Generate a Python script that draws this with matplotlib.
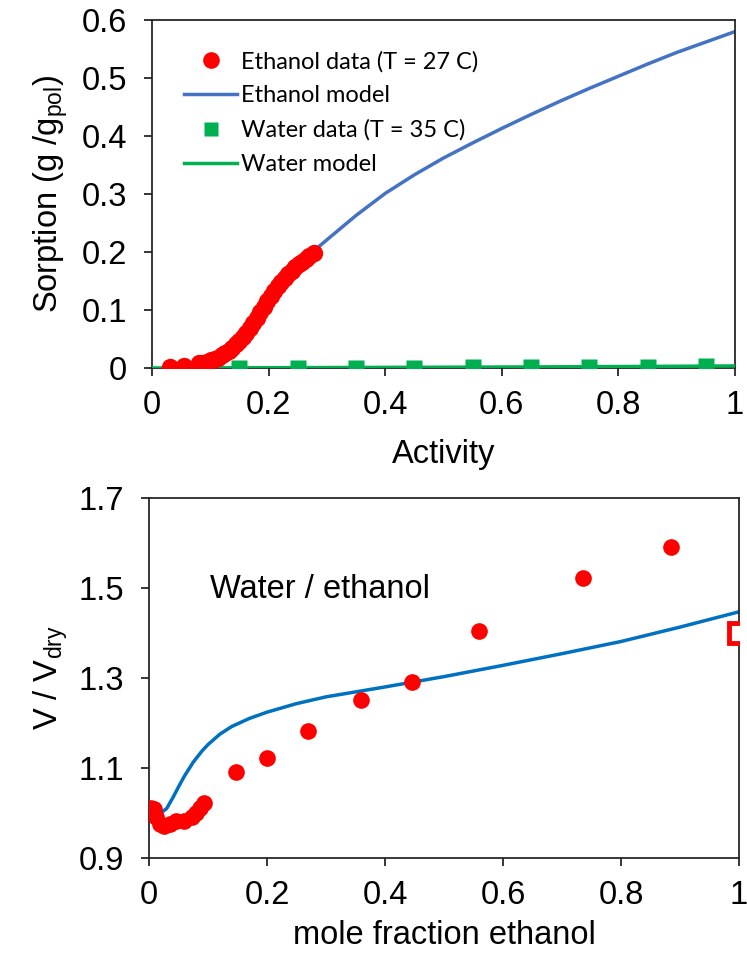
import matplotlib
matplotlib.use("Agg")
import matplotlib.pyplot as plt
from matplotlib.lines import Line2D

plt.rcParams['font.family'] = ['Liberation Sans', 'DejaVu Sans']
plt.rcParams['mathtext.fontset'] = 'custom'
plt.rcParams['mathtext.rm'] = 'Liberation Sans'
plt.rcParams['mathtext.it'] = 'Liberation Sans:italic'

# ---- top panel: sorption isotherms ----
eth_a = [0.03, 0.055, 0.08, 0.088, 0.095, 0.102, 0.108, 0.114, 0.12, 0.126, 0.132,
         0.138, 0.144, 0.15, 0.156, 0.162, 0.168, 0.174, 0.18, 0.186, 0.192, 0.198,
         0.204, 0.21, 0.216, 0.222, 0.228, 0.234, 0.24, 0.246, 0.252, 0.258, 0.264,
         0.27, 0.277]
eth_s = [0.002, 0.003, 0.008, 0.009, 0.011, 0.013, 0.015, 0.018, 0.022, 0.026, 0.030,
         0.035, 0.041, 0.047, 0.053, 0.061, 0.069, 0.078, 0.087, 0.096, 0.105, 0.115,
         0.124, 0.133, 0.141, 0.148, 0.155, 0.162, 0.168, 0.174, 0.179, 0.183, 0.188,
         0.193, 0.199]

eth_model_a = [0.03, 0.05, 0.08, 0.1, 0.12, 0.14, 0.16, 0.18, 0.2, 0.22, 0.24, 0.26,
               0.28, 0.3, 0.35, 0.4, 0.45, 0.5, 0.55, 0.6, 0.65, 0.7, 0.75, 0.8,
               0.85, 0.9, 0.95, 1.0]
eth_model_s = [0.0, 0.003, 0.009, 0.016, 0.028, 0.045, 0.066, 0.092, 0.12, 0.146, 0.168,
               0.187, 0.204, 0.221, 0.263, 0.301, 0.333, 0.362, 0.388, 0.413, 0.437,
               0.460, 0.482, 0.503, 0.524, 0.544, 0.562, 0.580]

wat_a = [0.15, 0.25, 0.35, 0.45, 0.55, 0.65, 0.75, 0.85, 0.95]
wat_s = [0.0, 0.0, 0.0, 0.0005, 0.001, 0.001, 0.002, 0.002, 0.004]

wat_model_a = [0.0, 0.2, 0.4, 0.6, 0.8, 1.0]
wat_model_s = [0.0, 0.0004, 0.001, 0.0016, 0.0024, 0.0035]

# ---- bottom panel: swelling ----
sw_x = [0.0, 0.004, 0.008, 0.012, 0.018, 0.025, 0.035, 0.045, 0.06, 0.072, 0.08,
        0.087, 0.093, 0.148, 0.2, 0.27, 0.36, 0.445, 0.56, 0.735, 0.885]
sw_v = [1.0, 1.012, 1.008, 0.99, 0.975, 0.97, 0.975, 0.982, 0.983, 0.99, 1.0,
        1.012, 1.022, 1.092, 1.123, 1.182, 1.252, 1.29, 1.405, 1.522, 1.59]

pure_x = [1.0]
pure_v = [1.40]

sw_model_x = [0.0, 0.02, 0.03, 0.04, 0.05, 0.06, 0.075, 0.09, 0.1, 0.12, 0.14, 0.17,
              0.2, 0.25, 0.3, 0.4, 0.5, 0.6, 0.7, 0.8, 0.9, 1.0]
sw_model_v = [1.0, 1.0, 1.01, 1.033, 1.058, 1.082, 1.113, 1.138, 1.152, 1.175, 1.192,
              1.21, 1.224, 1.243, 1.258, 1.28, 1.303, 1.328, 1.354, 1.381, 1.413, 1.447]

RED = '#FF0000'
BLUE_T = '#4472C4'
BLUE_B = '#0070C0'
GREEN = '#00B050'
FS = 23.5

fig = plt.figure(figsize=(7.47, 9.55), dpi=100)

ax1 = fig.add_axes([0.2035, 0.6147, 0.7805, 0.3644])
ax1.plot(eth_model_a, eth_model_s, color=BLUE_T, lw=2.5, zorder=2)
ax1.plot(wat_model_a, wat_model_s, color=GREEN, lw=2.5, zorder=3)
ax1.plot(eth_a, eth_s, 'o', color=RED, ms=12.5, mec='none', zorder=4)
ax1.plot(wat_a, wat_s, 's', color=GREEN, ms=11, mec='none', zorder=5)
ax1.set_xlim(0, 1)
ax1.set_ylim(0, 0.6)
ax1.set_xticks([0, 0.2, 0.4, 0.6, 0.8, 1.0])
ax1.set_xticklabels(['0', '0.2', '0.4', '0.6', '0.8', '1'])
ax1.set_yticks([0, 0.1, 0.2, 0.3, 0.4, 0.5, 0.6])
ax1.set_yticklabels(['0', '0.1', '0.2', '0.3', '0.4', '0.5', '0.6'])
ax1.set_xlabel('Activity', fontsize=FS, labelpad=13)
ax1.set_ylabel(r'Sorption (g /g$_{\mathrm{pol}}$)', fontsize=FS, labelpad=8)

handles = [
    Line2D([], [], marker='o', ls='none', color=RED, ms=12, mec='none'),
    Line2D([], [], color=BLUE_T, lw=2.5),
    Line2D([], [], marker='s', ls='none', color=GREEN, ms=10, mec='none'),
    Line2D([], [], color=GREEN, lw=2.5),
]
labels = ['Ethanol data (T = 27 C)', 'Ethanol model', 'Water data (T = 35 C)', 'Water model']
ax1.legend(handles, labels, loc='upper left', bbox_to_anchor=(0.035, 0.945),
           frameon=False, prop={'family': 'Lato', 'size': 17},
           handlelength=2.25, handletextpad=0.15, labelspacing=0.55, borderpad=0)

ax2 = fig.add_axes([0.1995, 0.1016, 0.7898, 0.377])
ax2.plot(sw_model_x, sw_model_v, color=BLUE_B, lw=2.5, zorder=2)
ax2.plot(sw_x, sw_v, 'o', color=RED, ms=12, mec='none', zorder=3)
ax2.plot(pure_x, pure_v, 's', mfc='white', mec=RED, mew=3.5, ms=14, zorder=4)
ax2.set_xlim(0, 1)
ax2.set_ylim(0.9, 1.7)
ax2.set_xticks([0, 0.2, 0.4, 0.6, 0.8, 1.0])
ax2.set_xticklabels(['0', '0.2', '0.4', '0.6', '0.8', '1'])
ax2.set_yticks([0.9, 1.1, 1.3, 1.5, 1.7])
ax2.set_yticklabels(['0.9', '1.1', '1.3', '1.5', '1.7'])
ax2.set_xlabel('mole fraction ethanol', fontsize=FS, labelpad=6)
ax2.set_ylabel(r'V / V$_{\mathrm{dry}}$', fontsize=FS, labelpad=6)
ax2.text(0.103, 1.496, 'Water / ethanol', fontsize=FS, va='center', ha='left')

for ax in (ax1, ax2):
    for sp in ax.spines.values():
        sp.set_color('#262626')
        sp.set_linewidth(1.3)
    ax.tick_params(direction='out', length=6, width=1.3, labelsize=FS,
                   colors='#262626', labelcolor='black')
    ax.tick_params(axis='x', pad=10)
    ax.tick_params(axis='y', pad=12)

fig.savefig('out.png', dpi=100)
